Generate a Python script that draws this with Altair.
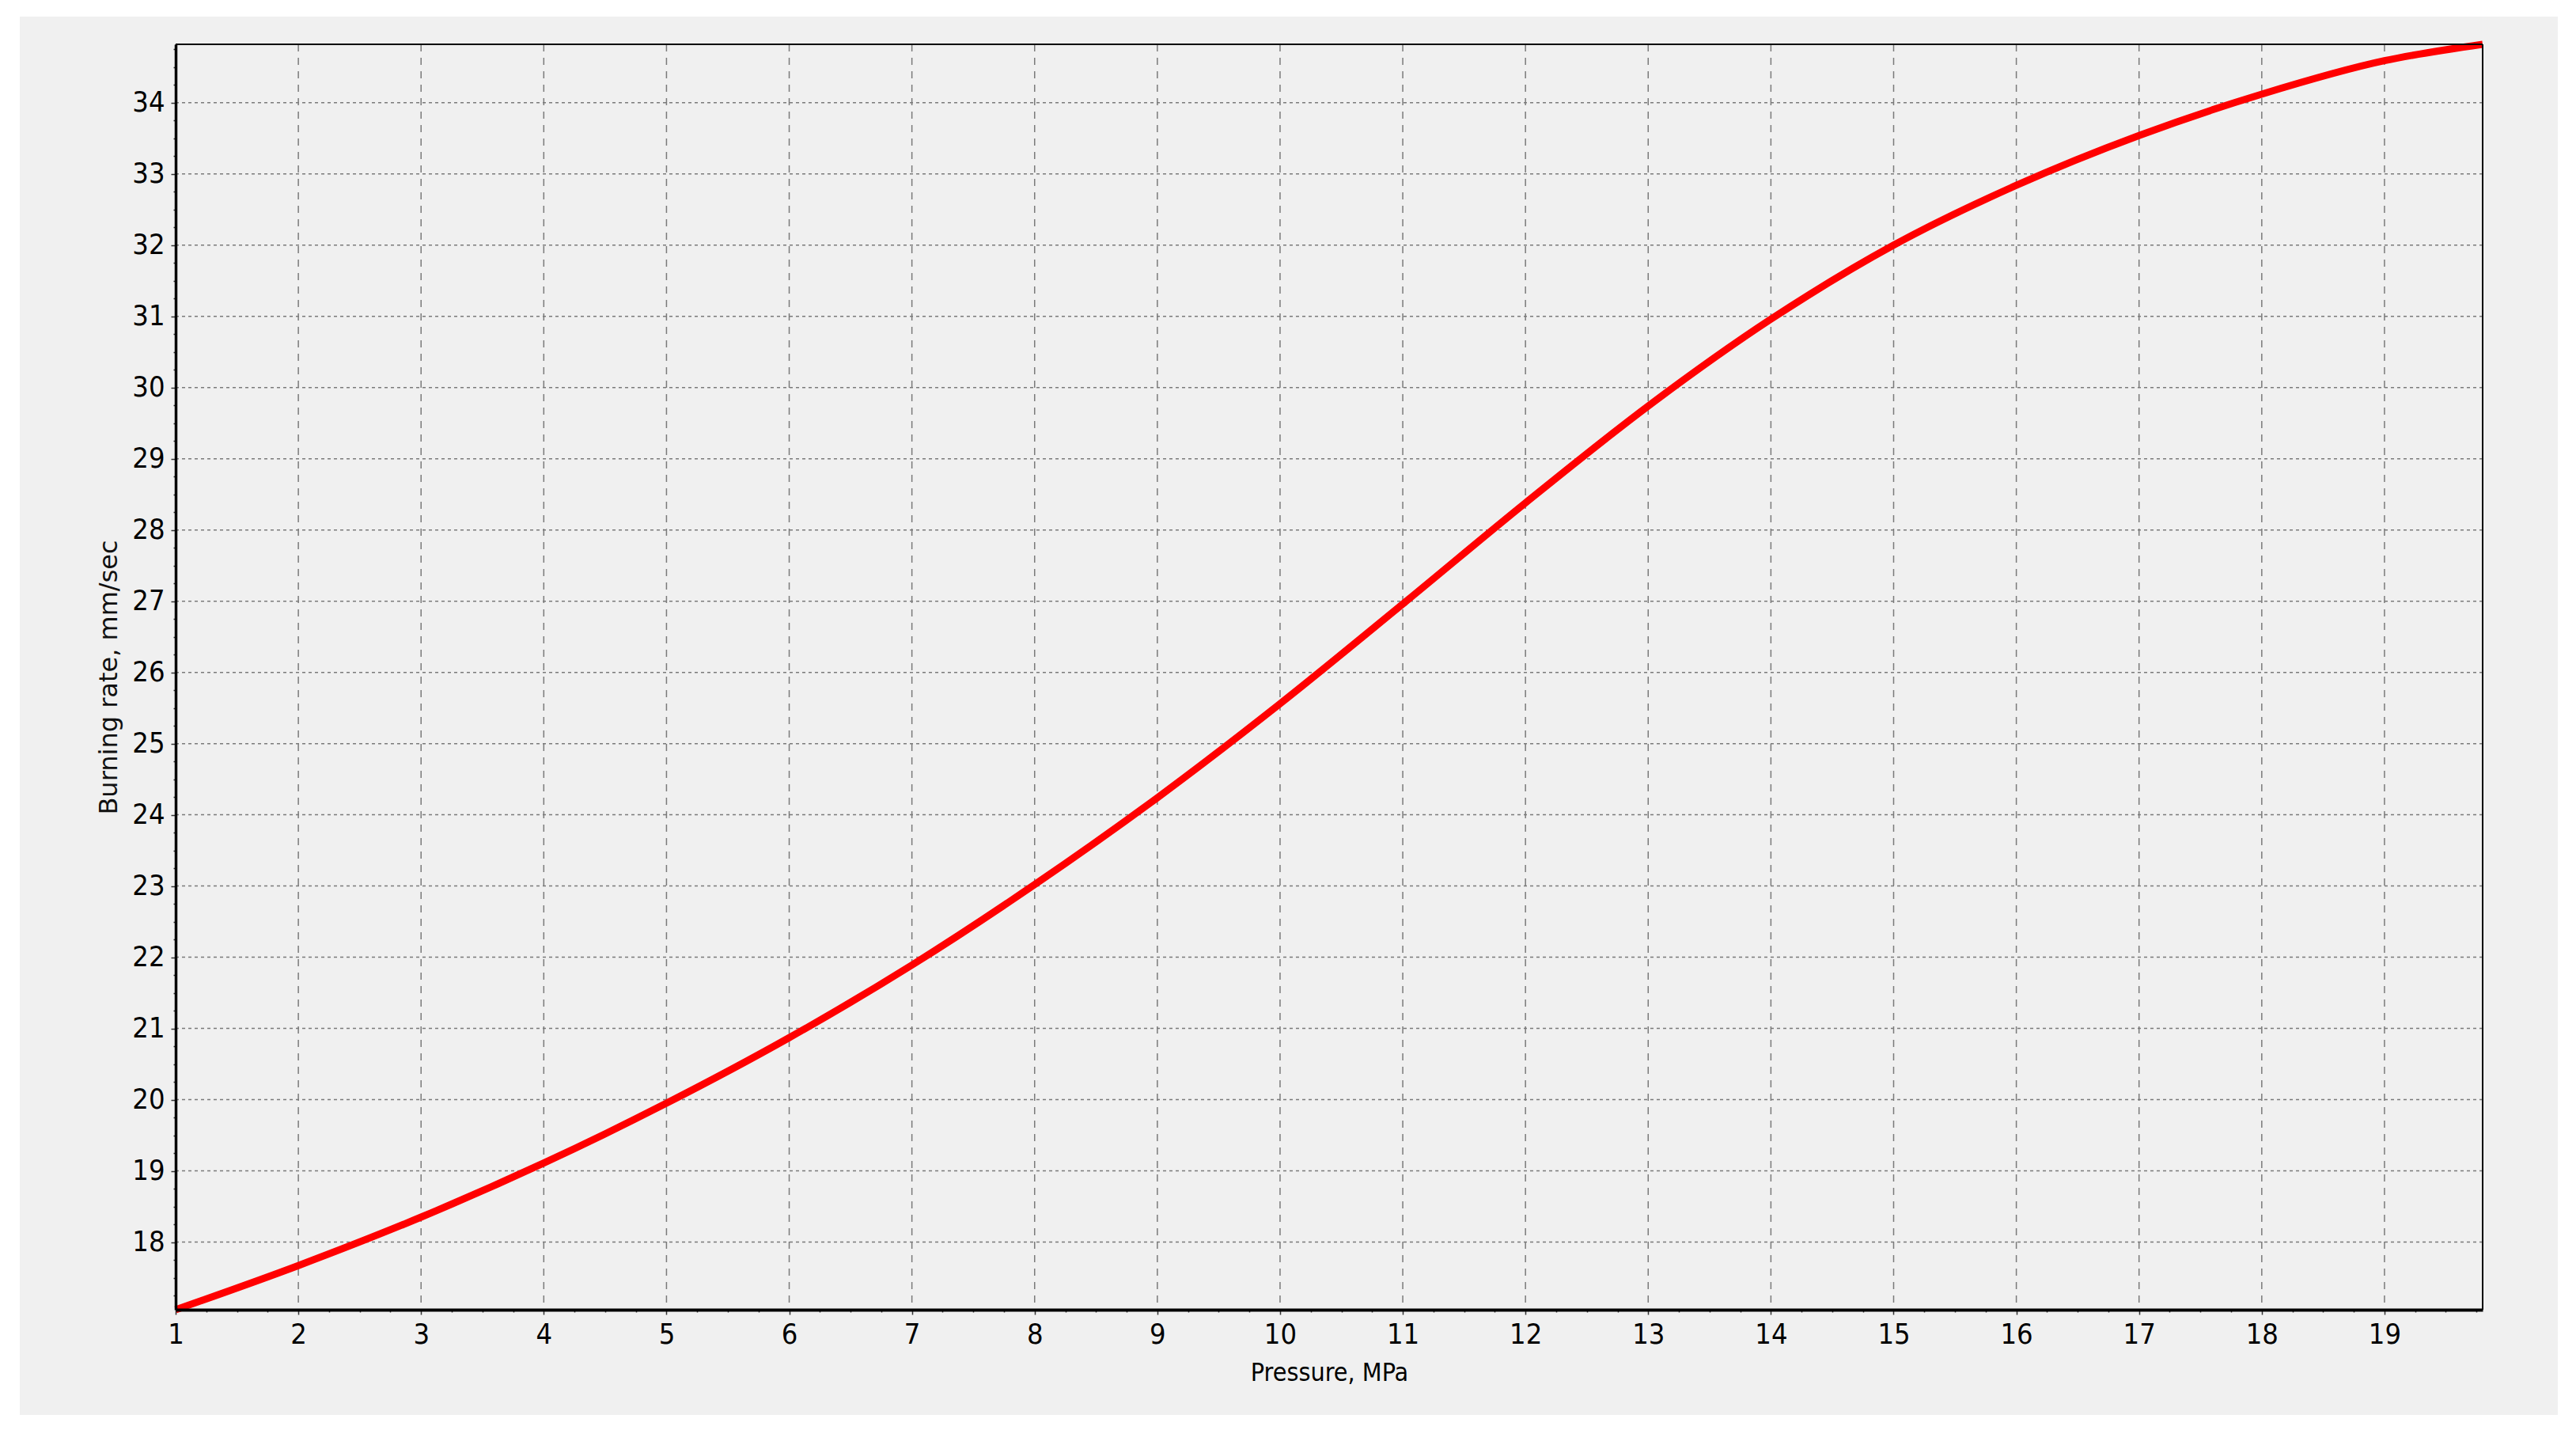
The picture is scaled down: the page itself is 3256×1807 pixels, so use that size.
import altair as alt
import pandas as pd

# Data
pressure = [1, 2, 3, 4, 5, 6, 7, 8, 9, 10, 11, 12, 13, 14, 15, 16, 17, 18, 19, 19.8]
burning_rate = [17.05, 17.67, 18.35, 19.11, 19.95, 20.87, 21.89, 23.02, 24.24, 25.56,
                26.96, 28.38, 29.74, 30.96, 32.00, 32.84, 33.54, 34.12, 34.59, 34.82]

x_major = list(range(1, 20))
y_major = list(range(18, 35))
x_ticks = [1 + 0.25 * i for i in range(76)]        # 1 .. 19.75
y_ticks = [17.25 + 0.25 * i for i in range(71)]    # 17.25 .. 34.75

X_DOMAIN = [1, 19.8]
Y_DOMAIN = [17.05, 34.82]

W, H = 2916, 1599
LABEL_FONT = "Liberation Sans Narrow, Arial Narrow, DejaVu Sans Condensed, Liberation Sans, sans-serif"
TITLE_FONT = "DejaVu Sans, Verdana, sans-serif"

df = pd.DataFrame({"p": pressure, "r": burning_rate})
gx = pd.DataFrame({"p": x_major})
gy = pd.DataFrame({"r": y_major})

x_axis = alt.Axis(
    values=x_ticks,
    labelExpr="datum.value % 1 === 0 ? format(datum.value, 'd') : ''",
    tickSize={"condition": {"test": "datum.value % 1 === 0", "value": 6}, "value": 3},
    grid=False, domainColor="black", domainWidth=4,
    tickColor="#333333", tickWidth=1.5,
    labelFont=LABEL_FONT, labelFontSize=36, labelColor="black",
    labelPadding=8, labelFlush=False, labelOverlap=False,
    titleFont=LABEL_FONT, titleFontSize=32, titleFontWeight="normal", titleColor="black",
    titleX=W / 2, titleY=79, titleBaseline="middle", titleAlign="center",
    zindex=1,
)
y_axis = alt.Axis(
    values=y_ticks,
    labelExpr="datum.value % 1 === 0 ? format(datum.value, 'd') : ''",
    tickSize={"condition": {"test": "datum.value % 1 === 0", "value": 6}, "value": 3},
    grid=False, domainColor="black", domainWidth=3.5,
    tickColor="#333333", tickWidth=1.5,
    labelFont=LABEL_FONT, labelFontSize=36, labelColor="black",
    labelPadding=8, labelFlush=False, labelOverlap=False,
    titleFont=TITLE_FONT, titleFontSize=32, titleFontWeight="normal", titleColor="#111111",
    titleX=-85, titleY=H / 2, titleBaseline="middle", titleAlign="center", titleAngle=270,
    zindex=1,
)

XENC = dict(title="Pressure, MPa", scale=alt.Scale(domain=X_DOMAIN, nice=False, zero=False), axis=x_axis)
YENC = dict(title="Burning rate, mm/sec", scale=alt.Scale(domain=Y_DOMAIN, nice=False, zero=False), axis=y_axis)

bg = alt.Chart(alt.Data(values=[{}])).mark_rect(color="#f0f0f0").encode(
    x=alt.value(-197), x2=alt.value(3011), y=alt.value(-35), y2=alt.value(1732)
)

vgrid = alt.Chart(gx).mark_rule(color="#7a7a7a", strokeWidth=1.5, strokeDash=[9, 8]).encode(
    x=alt.X("p:Q", **XENC), y=alt.value(0), y2=alt.value(H)
)
hgrid = alt.Chart(gy).mark_rule(color="#7a7a7a", strokeWidth=1.5, strokeDash=[4, 4]).encode(
    y=alt.Y("r:Q", **YENC), x=alt.value(0), x2=alt.value(W)
)

line = alt.Chart(df).mark_line(color="#ff0000", strokeWidth=9, interpolate="monotone").encode(
    x=alt.X("p:Q", **XENC), y=alt.Y("r:Q", **YENC)
)

frame_top = alt.Chart(alt.Data(values=[{}])).mark_rule(color="black", strokeWidth=2).encode(
    x=alt.value(0), x2=alt.value(W), y=alt.value(0)
)
frame_right = alt.Chart(alt.Data(values=[{}])).mark_rule(color="black", strokeWidth=2).encode(
    x=alt.value(W), y=alt.value(0), y2=alt.value(H)
)

chart = alt.layer(bg, vgrid, hgrid, line, frame_top, frame_right).properties(
    width=W, height=H,
    padding={"left": 214, "top": 48, "right": 110, "bottom": 145},
    autosize=alt.AutoSizeParams(type="none"),
    background="white",
).configure_view(stroke=None)

chart.save("out.html", embed_options={"renderer": "svg", "actions": False})
